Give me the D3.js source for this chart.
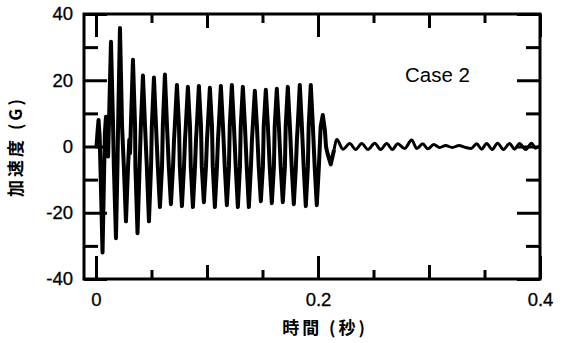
<!DOCTYPE html>
<html lang="ja">
<head>
<meta charset="UTF-8">
<title>Case 2 加速度</title>
<script src="https://d3js.org/d3.v7.min.js"></script>
<style>
    body { margin: 0; background: #fff; }
    .tick text { font-family: "Liberation Sans", Arial, sans-serif; font-size: 18.5px; fill: #000; stroke: #000; stroke-width: 0.3; }
    .tick line { stroke: #000; stroke-width: 3; }
    .trace { fill: none; stroke: #000; stroke-width: 4; stroke-linejoin: round; }
    .tail { stroke-width: 3; }
</style>
</head>
<body>
<div id="chart"></div>
<script>
// time in ms, acceleration in G
var pulseTrace = [
    [-0.5, 0], [0.5, 0], [1.3, 4], [2.3, 8], [3.3, 3], [4.0, -6], [5.9, -32], [7.4, -6], [8.0, 4], [9.0, 9], [10.0, 3], [10.9, -3],
    [11.6, 6], [13.5, 31.6], [15.4, 6], [16.1, -6], [18.0, -27.7], [19.4, -5],
    [19.9, 6], [21.6, 35.8], [23.5, 6], [25.1, -6], [27.0, -22.6], [28.9, -6], [30.0, 2], [30.7, -2],
    [31.4, 6], [33.3, 26.2], [35.2, 6], [35.5, -6], [37.4, -26.2], [39.3, -6],
    [40.4, 6], [42.3, 21.4], [44.2, 6], [45.8, -6], [47.7, -22.6], [49.6, -6],
    [50.3, 6], [52.2, 20.8], [54.1, 6], [55.7, -6], [57.6, -18.3], [59.5, -6],
    [60.2, 6], [62.1, 21.7], [64.0, 6], [65.6, -6], [67.5, -17.4], [69.4, -6], [70.3, 2],
    [71.0, 6], [72.9, 18.6], [74.8, 6], [75.5, -6], [77.4, -18.0], [79.3, -6], [80.2, 2],
    [80.9, 6], [82.8, 18.0], [84.7, 6], [85.4, -6], [87.3, -18.3], [89.2, -6], [90.1, 2],
    [90.8, 6], [92.7, 18.3], [94.6, 6], [95.3, -6], [97.2, -16.8], [99.1, -6], [100.0, 2],
    [100.7, 6], [102.6, 17.7], [104.5, 6], [105.2, -6], [107.1, -18.3], [109.0, -6], [109.9, 2],
    [110.6, 6], [112.5, 18.3], [114.4, 6], [116.0, -6], [117.9, -17.7], [119.8, -6],
    [120.5, 6], [122.4, 18.6], [124.3, 6], [125.9, -6], [127.8, -18.3], [129.7, -6],
    [130.4, 6], [132.3, 18.0], [134.2, 6], [135.8, -6], [137.7, -18.3], [139.6, -6], [140.5, 2],
    [141.2, 6], [143.1, 16.8], [145.0, 6], [146.6, -6], [148.5, -16.5], [150.4, -6],
    [151.1, 6], [153.0, 17.1], [154.9, 6], [156.5, -6], [158.4, -17.1], [160.3, -6],
    [161.0, 6], [162.9, 17.4], [164.8, 6], [166.4, -6], [168.3, -16.8], [170.2, -6],
    [170.9, 6], [172.8, 18.0], [174.7, 6], [176.3, -6], [178.2, -17.4], [180.1, -6], [181.0, 2],
    [181.7, 6], [183.6, 18.6], [185.5, 6], [187.1, -6], [189.0, -18.0], [190.9, -6],
    [191.6, 6], [193.5, 18.6], [195.4, 6], [197.0, -6], [198.9, -17.7], [200.8, -6],
    [202.4, 6], [204.3, 9.5], [206.2, 5], [207.2, 0], [208.5, -2], [211.5, -5.4], [214.5, -1]
];
var tailTrace = [
    [214.5, -1], [217.0, 2.1], [222.5, -0.8], [228.6, 0.9], [234.0, -0.9], [239.4, 0.9], [245.0, -0.9],
    [251.1, 1.0], [256.5, -0.9], [261.9, 0.9], [267.0, -0.9], [271.8, 0.8], [278.0, -0.6],
    [284.4, 2.0], [289.0, -0.6], [294.3, 0.8], [299.0, -0.7], [304.2, 0.6], [309.6, -0.3],
    [315.0, 0.3], [321.0, -0.3], [327.0, 0.3], [333.0, -0.3], [338.0, -0.6], [342.9, 0.8],
    [347.5, -0.8], [351.9, 0.9], [357.0, -0.9], [361.8, 1.0], [367.0, -0.9], [372.6, 0.9],
    [377.0, -0.8], [381.6, 0.9], [387.0, -0.9], [392.4, 1.0], [396.0, -0.5], [400.0, 0.3]
];

var xMajor = [0, 0.2, 0.4], xMid = [0.1, 0.3], xMinor = [0.05, 0.15, 0.25, 0.35];
var xLabels = ["0", "0.2", "0.4"];
var yMajor = [-40, -20, 0, 20, 40], yMinor = [-30, -10, 10, 30];
var yLabels = ["-40", "-20", "0", "20", "40"];

var W = 565, H = 343;
var L = 84, R = 540, T = 14, B = 279;

var svg = d3.select("#chart").append("svg")
    .attr("width", W).attr("height", H);

var x = d3.scaleLinear().domain([-0.0108, 0.4]).range([L, R]);
var y = d3.scaleLinear().domain([-40, 40]).range([B, T]);

// trace
var line = d3.line()
    .x(function(d) { return x(d[0] / 1000); })
    .y(function(d) { return y(d[1]); });
var smooth = d3.line()
    .x(function(d) { return x(d[0] / 1000); })
    .y(function(d) { return y(d[1]); })
    .curve(d3.curveMonotoneX);

svg.append("path").datum(pulseTrace).attr("class", "trace").attr("d", line);
svg.append("path").datum(tailTrace).attr("class", "trace tail").attr("d", smooth);

// ticks, all pointing inward
function xTicks(vals, len, labels) {
    var bottom = svg.append("g")
        .attr("transform", "translate(0," + B + ")")
        .call(d3.axisBottom(x).tickValues(vals).tickSizeInner(-len).tickSizeOuter(0)
            .tickPadding(14)
            .tickFormat(function(d, i) { return labels ? labels[i] : ""; }));
    var top = svg.append("g")
        .attr("transform", "translate(0," + T + ")")
        .call(d3.axisTop(x).tickValues(vals).tickSizeInner(-len).tickSizeOuter(0).tickFormat(""));
    bottom.select(".domain").remove();
    top.select(".domain").remove();
}
function yTicks(vals, len, labels) {
    var left = svg.append("g")
        .attr("transform", "translate(" + L + ",0)")
        .call(d3.axisLeft(y).tickValues(vals).tickSizeInner(-len).tickSizeOuter(0)
            .tickPadding(11)
            .tickFormat(function(d, i) { return labels ? labels[i] : ""; }));
    var right = svg.append("g")
        .attr("transform", "translate(" + R + ",0)")
        .call(d3.axisRight(y).tickValues(vals).tickSizeInner(-len).tickSizeOuter(0).tickFormat(""));
    left.select(".domain").remove();
    right.select(".domain").remove();
}
xTicks(xMajor, 23, xLabels);
xTicks(xMid, 14);
xTicks(xMinor, 9);
yTicks(yMajor, 23, yLabels);
yTicks(yMinor, 14);

svg.selectAll(".tick text").attr("font-family", null).attr("font-size", null);

// frame
svg.append("rect")
    .attr("x", L).attr("y", T)
    .attr("width", R - L).attr("height", B - T)
    .attr("fill", "none").attr("stroke", "#000").attr("stroke-width", 3);

svg.append("text")
    .attr("x", 405).attr("y", 82)
    .attr("font-family", "Liberation Sans, Arial, sans-serif")
    .attr("font-size", 20.5)
    .text("Case 2");

// axis titles
svg.append("text")
    .attr("x", 325).attr("y", 334)
    .attr("text-anchor", "middle")
    .attr("font-family", "Noto Sans CJK JP, sans-serif")
    .attr("font-weight", "bold")
    .attr("font-size", 17)
    .attr("letter-spacing", 3)
    .text("時間 (秒)");

svg.append("text")
    .attr("transform", "translate(22," + y(0) + ") rotate(-90)")
    .attr("text-anchor", "middle")
    .attr("font-family", "Noto Sans CJK JP, sans-serif")
    .attr("font-weight", "bold")
    .attr("font-size", 17)
    .attr("letter-spacing", 3)
    .text("加速度 (G)");
</script>
</body>
</html>
